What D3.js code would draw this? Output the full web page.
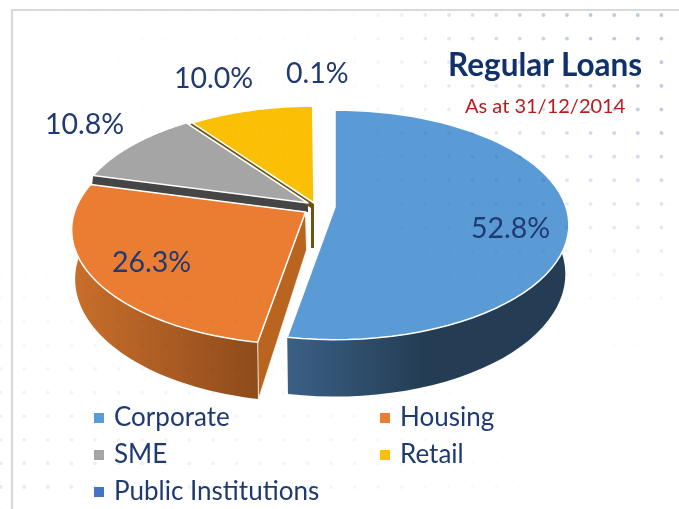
<!DOCTYPE html>
<html>
<head>
<meta charset="utf-8">
<script src="https://cdn.jsdelivr.net/npm/d3@7"></script>
<style>
  html, body { margin: 0; padding: 0; background: #fff; overflow: hidden; }
  svg { display: block; filter: blur(0.45px); }
  text { font-family: Lato, "Open Sans", sans-serif; }
</style>
</head>
<body>
<div id="chart"></div>
<script>
// Values
const categories = ['Corporate', 'Housing', 'SME', 'Retail', 'Public Institutions'];
const shares = [52.8, 26.3, 10.8, 10.0, 0.1];
const shareLabels = ['52.8%', '26.3%', '10.8%', '10.0%', '0.1%'];
const colors = ['#5b9bd5', '#ea7d31', '#a5a5a5', '#fbbf05', '#4472c4'];
const title = 'Regular Loans';
const subtitle = 'As at 31/12/2014';

const width = 679, height = 509;

// Where each exploded slice sits on the page, same order as categories
const apexes = [[335, 207], [305.5, 212], [308, 203], [314, 203], [314, 203]];
const labelSpots = [[471, 238], [112, 272], [45, 134], [174, 88], [286, 83]];
const legendSpots = [[94, 426], [380, 426], [94, 463], [380, 463], [94, 500]];

// Tilted disc with a bit of perspective
const rx = 231, ry = 112, persp = 0.156, depth = 48;

const project = (apex, a, bottom) => {
    const u = Math.sin(a), v = -Math.cos(a);
    const w = 1 / (1 - persp * v);
    const shrink = bottom ? 0.985 : 1;
    return [
        apex[0] + rx * u * w * shrink,
        apex[1] + ry * v * w + (bottom ? depth * w : 0)
    ];
};

const arcPoints = (apex, a0, a1, bottom) =>
    d3.range(0, 61).map(i => project(apex, a0 + (a1 - a0) * i / 60, bottom));

const line = d3.line();
const closed = pts => line(pts) + 'Z';

const slices = d3.pie().sort(null).value(d => d)(shares);

const svg = d3.select('#chart').append('svg')
    .attr('width', width)
    .attr('height', height);

const defs = svg.append('defs');
const addGradient = (id, x1, x2, from, to) => {
    const g = defs.append('linearGradient')
        .attr('id', id)
        .attr('gradientUnits', 'userSpaceOnUse')
        .attr('x1', x1).attr('x2', x2).attr('y1', 0).attr('y2', 0);
    g.append('stop').attr('offset', 0).attr('stop-color', from);
    g.append('stop').attr('offset', 1).attr('stop-color', to);
};
addGradient('wallBlue', 290, 425, '#3a6084', '#243c54');
addGradient('wallOrange', 75, 258, '#c86e2b', '#8e4b1b');

// Panel border
svg.append('path')
    .attr('d', `M12,${height}V10H${width}`)
    .attr('fill', 'none')
    .attr('stroke', '#d9d9d9')
    .attr('stroke-width', 2.2);

const pie = svg.append('g');

const topFace = i => {
    const s = slices[i];
    pie.append('path')
        .attr('d', closed([apexes[i], ...arcPoints(apexes[i], s.startAngle, s.endAngle, false)]))
        .attr('fill', colors[i])
        .attr('stroke', '#fff')
        .attr('stroke-width', 1.5)
        .attr('stroke-linejoin', 'round');
};

const outerWall = (i, a0, a1, fill) => {
    const top = arcPoints(apexes[i], a0, a1, false);
    const bot = arcPoints(apexes[i], a0, a1, true).reverse();
    pie.append('path').attr('d', closed([...top, ...bot])).attr('fill', fill);
};

// Gray slice: only a dark strip of its cut face shows
const grayStart = project(apexes[2], slices[2].startAngle, false);
pie.append('path')
    .attr('d', closed([
        grayStart, apexes[2],
        [apexes[2][0], apexes[2][1] + 9],
        [grayStart[0] - 1, grayStart[1] + 9]
    ]))
    .attr('fill', '#454545');

// Retail slice: cut face seen as a thin brown sliver
const retailStart = project(apexes[3], slices[3].startAngle, false);
pie.append('path')
    .attr('d', closed([
        retailStart, apexes[3],
        [apexes[3][0], apexes[3][1] + 45],
        [apexes[3][0] - 3, apexes[3][1] + 45],
        [apexes[3][0] - 3, apexes[3][1] + 5],
        [retailStart[0] - 3, retailStart[1] + 3]
    ]))
    .attr('fill', '#6b5510');

topFace(2);
topFace(4);
topFace(3);

// Housing slice with its outer wall and cut face
const h = slices[1];
const hStartTop = project(apexes[1], h.startAngle, false);
const hStartBot = project(apexes[1], h.startAngle, true);
outerWall(1, h.startAngle, h.endAngle, 'url(#wallOrange)');
pie.append('path')
    .attr('d', closed([
        apexes[1], hStartTop, hStartBot,
        [apexes[1][0] + 1, apexes[1][1] + 38]
    ]))
    .attr('fill', '#b9651f')
    .attr('stroke', '#fff')
    .attr('stroke-width', 0.8);
topFace(1);

// Corporate slice
const c = slices[0];
outerWall(0, c.startAngle, c.endAngle, 'url(#wallBlue)');
topFace(0);

// Dot pattern over the whole picture
const dotXs = d3.range(24.2 - 23.6, width + 10, 23.6);
const dotYs = d3.range(15, height + 10, 23.6);
const dotStrength = (x, y) => {
    const upperRight = Math.max(0, (x - 340) / 340) * Math.max(0, 1 - y / 320);
    const lowerLeft = Math.max(0, (y - 260) / 250) * Math.max(0, 1 - x / 560);
    return Math.min(1, upperRight * 1.5 + lowerLeft * 0.4 + 0.03);
};
const dots = svg.append('g').style('mix-blend-mode', 'multiply');
dotXs.forEach(x => dotYs.forEach(y => {
    dots.append('circle')
        .attr('cx', x).attr('cy', y).attr('r', 1.9)
        .attr('fill', '#bcc8e6')
        .attr('opacity', dotStrength(x, y));
}));

// Share labels
svg.append('g').selectAll('text')
    .data(shareLabels)
    .enter()
    .append('text')
    .attr('x', (d, i) => labelSpots[i][0])
    .attr('y', (d, i) => labelSpots[i][1])
    .attr('font-size', 28.5)
    .attr('fill', '#1f3a70')
    .text(d => d);

// Title
svg.append('text')
    .attr('x', 448).attr('y', 76)
    .attr('font-size', 31.5)
    .attr('font-weight', 700)
    .attr('fill', '#12316b')
    .text(title);

svg.append('text')
    .attr('x', 465).attr('y', 113)
    .attr('font-size', 20)
    .attr('fill', '#b81d1d')
    .text(subtitle);

// Legend
const legend = svg.append('g').selectAll('g')
    .data(categories)
    .enter()
    .append('g')
    .attr('transform', (d, i) => `translate(${legendSpots[i][0]},${legendSpots[i][1]})`);

legend.append('rect')
    .attr('x', 0).attr('y', -13)
    .attr('width', 10).attr('height', 10)
    .attr('fill', (d, i) => colors[i]);

legend.append('text')
    .attr('x', 20).attr('y', 0)
    .attr('font-size', 26)
    .attr('fill', '#1f3a70')
    .text(d => d);
</script>
</body>
</html>
